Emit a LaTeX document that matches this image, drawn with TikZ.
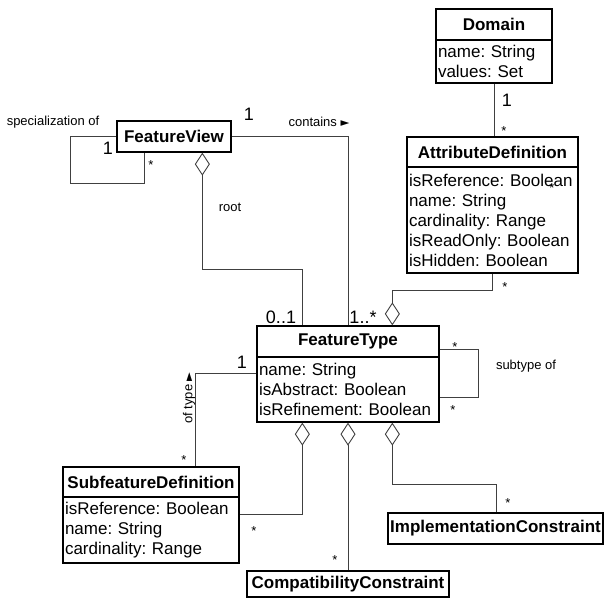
\documentclass[tikz,border=0pt]{standalone}
\usepackage{fontspec}
\setmainfont{Liberation Sans}
\newfontfamily\symfont{DejaVu Sans}
\newcommand\trisym{{\symfont\fontsize{11.5}{13}\selectfont ►}}
\frenchspacing
\usetikzlibrary{arrows.meta,calc}
\begin{document}
\frenchspacing
\begin{tikzpicture}[x=1pt,y=-1pt,
  box/.style={draw=black, line width=1.3pt, inner sep=0pt, rectangle},
  hdr/.style={box, font=\fontsize{17}{20}\selectfont\bfseries},
  attrs/.style={box, font=\fontsize{17}{20}\selectfont\frenchspacing, align=left, inner xsep=2pt, inner ysep=0pt},
  conn/.style={draw=black!75, line width=0.9pt},
  agg/.style={conn, {Diamond[open, length=23pt, width=15pt, line width=0.9pt]}-},
  lbl/.style={inner sep=0pt, font=\fontsize{13}{15}\selectfont},
  mult/.style={inner sep=0pt, font=\fontsize{18}{20}\selectfont},
  star/.style={inner sep=0pt, font=\fontsize{13}{15}\selectfont},
]
\useasboundingbox (0,0) rectangle (606,598);

% classes
\node[hdr, minimum width=116pt, minimum height=31pt] (domH) at (494,24.5) {Domain};
\node[attrs, text width=112pt, minimum width=116pt, minimum height=43pt] (domA) at (494,61.5) {name: String\\values: Set};
\node[hdr, minimum width=171pt, minimum height=30pt] (adH) at (492.5,152) {AttributeDefinition};
\node[attrs, text width=167pt, minimum width=171pt, minimum height=106pt] (adA) at (492.5,220) {isReference: Boolean\\name: String\\cardinality: Range\\isReadOnly: Boolean\\isHidden: Boolean};
\node[hdr, minimum width=114pt, minimum height=31pt] (fv) at (174,136.5) {FeatureView};
\node[hdr, minimum width=182pt, minimum height=31pt] (ftH) at (348,341.5) {FeatureType};
\node[attrs, text width=178pt, minimum width=182pt, minimum height=65pt] (ftA) at (348,389.5) {name: String\\isAbstract: Boolean\\isRefinement: Boolean};
\node[hdr, minimum width=176pt, minimum height=30pt] (sfH) at (151,482) {SubfeatureDefinition};
\node[attrs, text width=172pt, minimum width=176pt, minimum height=66pt] (sfA) at (151,530) {isReference: Boolean\\name: String\\cardinality: Range};
\node[hdr, minimum width=215pt, minimum height=31pt] (ic) at (495.5,528.5) {ImplementationConstraint};
\node[hdr, minimum width=202pt, minimum height=26pt] (cc) at (348,584) {CompatibilityConstraint};

% connectors
\draw[conn] (fv.west) -- ++(-46,0) |- ($(fv.south west)+(28,31)$) -- ($(fv.south west)+(28,0)$);
\draw[conn] (fv.east) -| (ftH.north);
\draw[agg] ($(fv.south west)+(86,0)$) -- ++(0,117) -| ($(ftH.north west)+(46,0)$);
\draw[agg] ($(ftH.north west)+(136,0)$) -- ++(0,-35) -| (adA.south);
\draw[conn] (domA.south) -- (domA.south |- adH.north);
\draw[conn] ($(ftH.north east)+(0,24)$) -- ++(39,0) -- ++(0,48) -- ++(-39,0);
\draw[conn] ($(ftA.north west)+(0,17)$) -| ($(sfH.north west)+(133,0)$);
\draw[agg] ($(ftA.south west)+(46,0)$) |- ($(sfA.north east)+(0,18)$);
\draw[agg] (ftA.south) -- (cc.north);
\draw[agg] ($(ftA.south west)+(136,0)$) -- ++(0,62) -| ($(ic.north west)+(109,0)$);

% labels
\node[lbl] (lspec) at (53,122) {specialization of};
\node[mult] (mfv1) at (108,148) {1};
\node[star] (sfv) at (151,165) {*};
\node[mult] (mc1) at (249,114) {1};
\node[lbl] (lcont) at (319,122) {contains \trisym};
\node[lbl] (lroot) at (230,207) {root};
\node[mult] (m01) at (281,317) {0..1};
\node[mult] (m1s) at (363,317) {1..*};
\node[mult] (md1) at (507,100) {1};
\node[star] (sd) at (504,131) {*};
\node[star] (sad) at (552,188) {*};
\node[star] (sad2) at (505,287) {*};
\node[star] (sst1) at (455,347) {*};
\node[star] (sst2) at (453,410) {*};
\node[lbl] (lsub) at (526,366) {subtype of};
\node[mult] (mot1) at (242,362) {1};
\node[lbl, rotate=90] (lof) at (189,398) {of type \trisym};
\node[star] (sot) at (184,460) {*};
\node[star] (ssf) at (254,531) {*};
\node[star] (scc) at (335,560) {*};
\node[star] (sic) at (508,503) {*};
\end{tikzpicture}
\end{document}
